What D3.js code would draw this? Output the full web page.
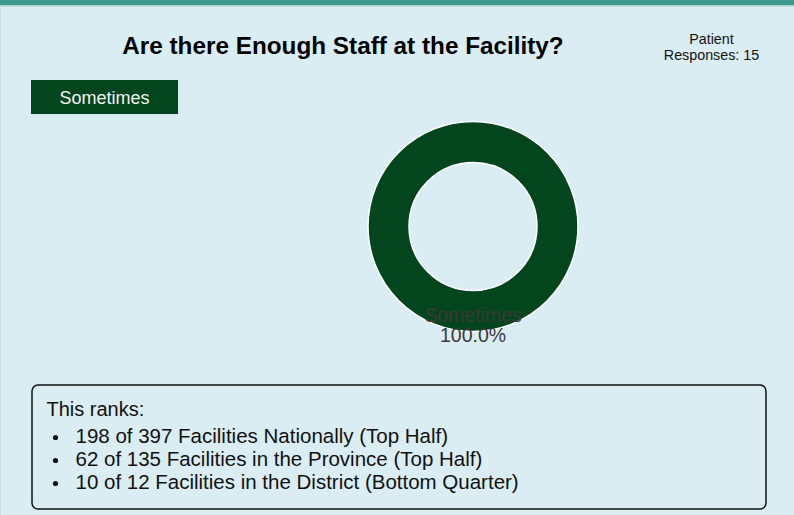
<!DOCTYPE html>
<html>
<head>
  <meta charset="utf-8">
  <title>Enough Staff</title>
  <style>
    html, body { margin: 0; padding: 0; background: #daedf3; }
    * { font-family: "Liberation Sans", Arial, sans-serif; }
  </style>
</head>
<body>
  <div id="chart"></div>
  <script src="https://d3js.org/d3.v7.min.js"></script>
  <script>
    const categories = ["Sometimes"];
    const values = [15];
    const colors = ["#03451c"];
    const responses = 15;
    const title = "Are there Enough Staff at the Facility?";
    const rankLines = [
      "198 of 397 Facilities Nationally (Top Half)",
      "62 of 135 Facilities in the Province (Top Half)",
      "10 of 12 Facilities in the District (Bottom Quarter)"
    ];

    const width = 794, height = 515;

    const svg = d3.select("#chart").append("svg")
      .attr("width", width)
      .attr("height", height)
      .style("display", "block");

    svg.append("rect").attr("width", width).attr("height", height).attr("fill", "#daedf3");
    // top band
    svg.append("rect").attr("width", width).attr("height", 5).attr("fill", "#3e9a8f");
    svg.append("rect").attr("y", 5).attr("width", width).attr("height", 1.5).attr("fill", "#a9d2d3");
    svg.append("rect").attr("y", 6).attr("width", 1).attr("height", height).attr("fill", "#c4e0e3");

    svg.append("text")
      .attr("x", 343).attr("y", 54)
      .attr("text-anchor", "middle")
      .attr("font-size", 24.3).attr("font-weight", "bold")
      .attr("fill", "#000")
      .text(title);

    svg.append("text")
      .attr("text-anchor", "middle")
      .attr("font-size", 14.3)
      .attr("fill", "#111")
      .call(t => t.append("tspan").attr("x", 711.5).attr("y", 43.5).text("Patient"))
      .call(t => t.append("tspan").attr("x", 711.5).attr("y", 60).text(`Responses: ${responses}`));

    // legend
    const color = d3.scaleOrdinal().domain(categories).range(colors);
    const legend = svg.append("g").selectAll("g")
      .data(categories)
      .join("g")
      .attr("transform", (d, i) => `translate(${31 + i * 150},80)`);
    legend.append("rect")
      .attr("width", 147).attr("height", 34)
      .attr("fill", d => color(d));
    legend.append("text")
      .attr("x", 73.5).attr("y", 23.5)
      .attr("text-anchor", "middle")
      .attr("font-size", 18)
      .attr("fill", "#f2f2f2")
      .text(d => d);

    // donut
    const data = categories.map((c, i) => ({ name: c, value: values[i] }));
    const total = d3.sum(values);
    const pie = d3.pie().sort(null).value(d => d.value);
    const arcs = pie(data);
    const arc = d3.arc().innerRadius(64).outerRadius(105);

    const g = svg.append("g").attr("transform", "translate(473,226.5)");
    g.selectAll("path")
      .data(arcs)
      .join("path")
      .attr("fill", d => color(d.data.name))
      .attr("stroke", "#fff")
      .attr("stroke-width", 1.5)
      .attr("d", arc);

    g.append("g")
      .attr("text-anchor", "middle")
      .attr("font-size", 19.5)
      .attr("fill", "#3a3a3a")
      .selectAll("text")
      .data(arcs)
      .join("text")
      .attr("transform", d => `translate(${arc.centroid(d)})`)
      .call(t => t.append("tspan").attr("x", 0).attr("y", 11).text(d => d.data.name))
      .call(t => t.append("tspan").attr("x", 0).attr("y", 31)
        .text(d => (d.data.value / total * 100).toFixed(1) + "%"));

    // ranks box
    svg.append("rect")
      .attr("x", 32).attr("y", 385)
      .attr("width", 734).attr("height", 124)
      .attr("rx", 6)
      .attr("fill", "none")
      .attr("stroke", "#111")
      .attr("stroke-width", 1.5);

    svg.append("text")
      .attr("x", 46.5).attr("y", 415.5)
      .attr("font-size", 20)
      .attr("fill", "#111")
      .text("This ranks:");

    const items = svg.append("g").selectAll("g")
      .data(rankLines)
      .join("g")
      .attr("transform", (d, i) => `translate(0,${443 + i * 23})`);
    items.append("circle").attr("cx", 55.5).attr("cy", -5.5).attr("r", 2.6).attr("fill", "#111");
    items.append("text")
      .attr("x", 75.5)
      .attr("font-size", 20.5)
      .attr("fill", "#111")
      .text(d => d);
  </script>
</body>
</html>
